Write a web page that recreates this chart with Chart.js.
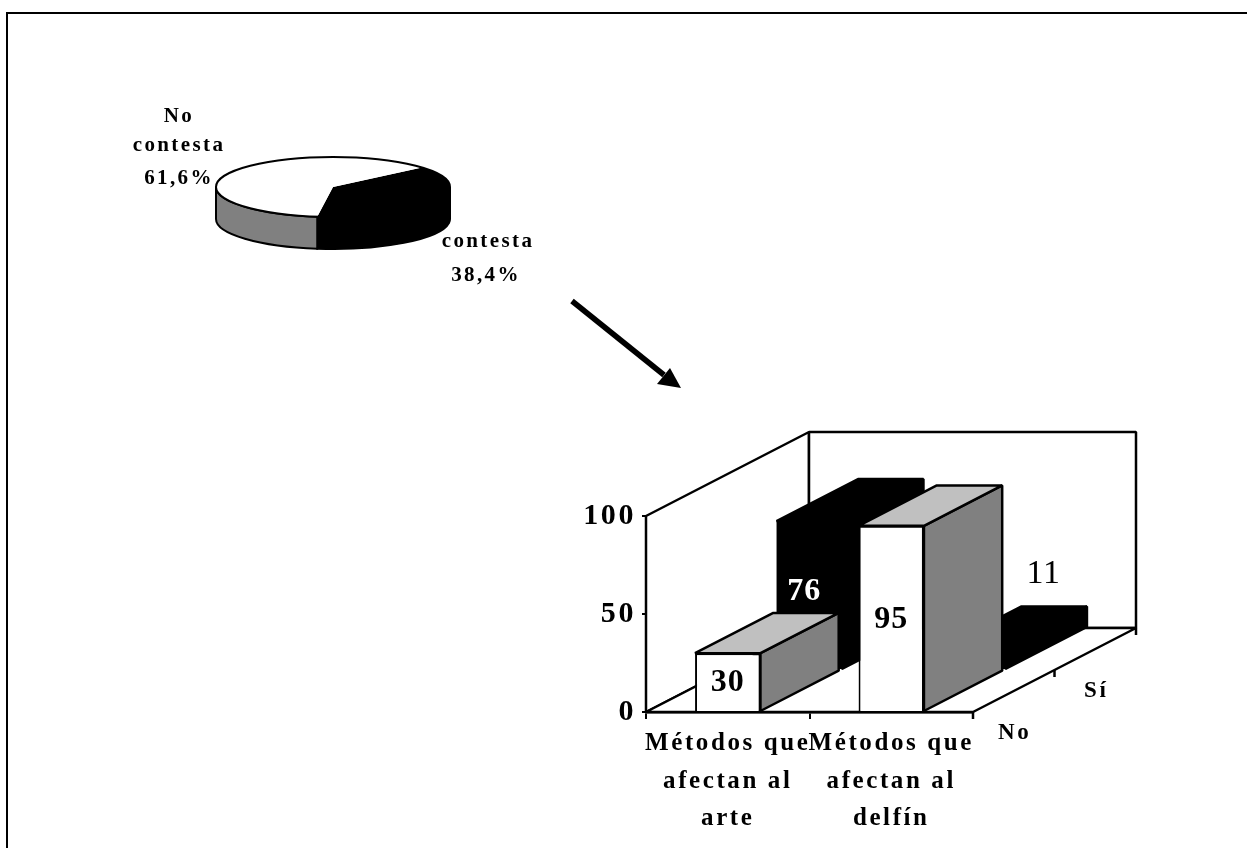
<!DOCTYPE html>
<html lang="es">
<head>
<meta charset="utf-8">
<title>Métodos</title>
<script src="https://cdn.jsdelivr.net/npm/chart.js@4"></script>
<style>
html,body{margin:0;padding:0;background:#fff;width:1247px;height:848px;overflow:hidden}
#frameTop{position:absolute;left:6px;top:12px;width:1241px;height:2px;background:#000}
#frameLeft{position:absolute;left:6px;top:12px;width:2px;height:836px;background:#000}
canvas{position:absolute}
#pie{left:100px;top:50px}
#bars{left:560px;top:410px}
#arrow{position:absolute;left:0;top:0}
</style>
</head>
<body>
<div id="frameTop"></div><div id="frameLeft"></div>
<canvas id="pie" width="500" height="270"></canvas>
<canvas id="bars" width="687" height="438"></canvas>
<svg id="arrow" width="1247" height="848"><line x1="572" y1="301" x2="664" y2="375" stroke="#000" stroke-width="5.5"/><polygon points="681,388 657,384 670,368" fill="#000"/></svg>
<script>
// ---------- data ----------
const pieCategories = ['contesta', 'No contesta'];
const pieValues = [38.4, 61.6];
const pieTexts = ['38,4%', '61,6%'];
const barCategories = [['Métodos que', 'afectan al', 'arte'], ['Métodos que', 'afectan al', 'delfín']];
const seriesNames = ['No', 'Sí'];
const seriesNo = [30, 95];
const seriesSi = [76, 11];
const yTicks = [0, 50, 100];

// ---------- style ----------
const SERIF = '"Liberation Serif","Times New Roman",serif';
const GREY = '#808080', LIGHT = '#c0c0c0';

// ---------- pie ----------
const PIE_SQUASH = 30 / 117, PIE_DEPTH = 32;
const pie3d = {
  id: 'pie3d',
  beforeDatasetsDraw(chart) {
    const c = chart.ctx, arcs = chart.getDatasetMeta(0).data;
    const cx = arcs[0].x, cy = arcs[0].y, r = arcs[0].outerRadius, ry = r * PIE_SQUASH;
    c.save();
    c.lineWidth = 2; c.strokeStyle = '#000';
    [ '#000', GREY ].forEach((fill, i) => {
      const from = Math.max(arcs[i].startAngle, 0), to = Math.min(arcs[i].endAngle, Math.PI);
      if (to <= from) return;
      c.beginPath();
      c.ellipse(cx, cy, r, ry, 0, from, to);
      c.ellipse(cx, cy + PIE_DEPTH, r, ry, 0, to, from, true);
      c.closePath();
      c.fillStyle = fill; c.fill(); c.stroke();
    });
    c.restore();
    c.save();
    c.translate(cx, cy); c.scale(1, PIE_SQUASH); c.translate(-cx, -cy);
  },
  afterDatasetsDraw(chart) {
    const c = chart.ctx, arcs = chart.getDatasetMeta(0).data;
    c.restore();
    const cx = arcs[0].x, cy = arcs[0].y, r = arcs[0].outerRadius, ry = r * PIE_SQUASH;
    c.save();
    c.lineWidth = 2; c.strokeStyle = '#000';
    c.beginPath(); c.ellipse(cx, cy, r, ry, 0, 0, 2*Math.PI); c.stroke();
    c.restore();
    c.save();
    c.fillStyle = '#000'; c.textAlign = 'center'; c.textBaseline = 'middle';
    c.font = 'bold 21px ' + SERIF; c.letterSpacing = '2.4px';
    const noLines = pieCategories[1].split(' ').concat(pieTexts[1]);
    const ys = [cy - 70, cy - 41, cy - 8];
    noLines.forEach((t, i) => c.fillText(t, cx - 154, ys[i]));
    c.fillText(pieCategories[0], cx + 155, cy + 55);
    c.fillText(pieTexts[0], cx + 153, cy + 89);
    c.restore();
  }
};
new Chart(document.getElementById('pie'), {
  type: 'pie',
  data: { labels: pieCategories, datasets: [{ data: pieValues, backgroundColor: ['#000', '#fff'], borderWidth: 0 }] },
  options: {
    responsive: false, animation: false, rotation: 49.5,
    layout: { padding: { left: 116, right: 150, top: 20, bottom: 16 } },
    plugins: { legend: { display: false }, tooltip: { enabled: false } }
  },
  plugins: [pie3d]
});

// ---------- 3D bars ----------
const DX = 163, DY = -84;
const sliceDepth = [0.48, 0.5];
const depthStart = [0, 0.5];

function poly(c, pts, fill) {
  c.beginPath();
  pts.forEach((p, i) => i ? c.lineTo(p[0], p[1]) : c.moveTo(p[0], p[1]));
  c.closePath();
  if (fill) { c.fillStyle = fill; c.fill(); }
  c.stroke();
}
const bars3d = {
  id: 'bars3d',
  beforeDraw(chart) { chart.ctx.letterSpacing = '2.6px'; },
  beforeDatasetsDraw(chart) {
    const c = chart.ctx, a = chart.chartArea;
    c.save();
    c.lineWidth = 2.5; c.strokeStyle = '#000'; c.lineJoin = 'bevel';
    poly(c, [[a.left, a.top], [a.left + DX, a.top + DY], [a.left + DX, a.bottom + DY], [a.left, a.bottom]], '#fff');
    poly(c, [[a.left + DX, a.top + DY], [a.right + DX, a.top + DY], [a.right + DX, a.bottom + DY], [a.left + DX, a.bottom + DY]], '#fff');
    poly(c, [[a.left, a.bottom], [a.right, a.bottom], [a.right + DX, a.bottom + DY], [a.left + DX, a.bottom + DY]], '#fff');
    c.fillStyle = '#000'; c.textAlign = 'center'; c.textBaseline = 'middle';
    c.font = 'bold 23px ' + SERIF; c.letterSpacing = '2.6px';
    [0, 0.5, 1].forEach(f => {
      const x = a.right + DX * f, y = a.bottom + DY * f;
      c.beginPath(); c.moveTo(x, y); c.lineTo(x, y + 7); c.stroke();
    });
    seriesNames.forEach((n, i) => {
      const f = i === 0 ? 0.25 : 0.75;
      c.fillText(n, a.right + DX * f + 1, a.bottom + DY * f + 42);
    });
    c.restore();
  },
  beforeDatasetDraw(chart, args) {
    const c = chart.ctx, meta = args.meta, i = args.index;
    const ox = DX * depthStart[i], oy = DY * depthStart[i], ex = DX * sliceDepth[i], ey = DY * sliceDepth[i];
    c.save();
    c.lineWidth = 2.5; c.strokeStyle = '#000'; c.lineJoin = 'bevel';
    meta.data.forEach(b => {
      const l = b.x - b.width / 2 + ox, r = b.x + b.width / 2 + ox, t = b.y + oy, bt = b.base + oy;
      poly(c, [[r, t], [r + ex, t + ey], [r + ex, bt + ey], [r, bt]], i ? '#000' : GREY);
      poly(c, [[l, t], [l + ex, t + ey], [r + ex, t + ey], [r, t]], i ? '#000' : LIGHT);
    });
    c.restore();
    c.save();
    c.translate(ox, oy);
  },
  afterDatasetDraw(chart) { chart.ctx.restore(); },
  afterDatasetsDraw(chart) {
    const c = chart.ctx;
    c.save();
    c.textAlign = 'center'; c.textBaseline = 'middle'; c.letterSpacing = '1px';
    chart.getDatasetMeta(0).data.forEach((b, k) => {
      c.fillStyle = '#000'; c.font = 'bold 32px ' + SERIF;
      c.fillText(String(seriesNo[k]), b.x, (b.y + b.base) / 2 + 1);
    });
    const s = chart.getDatasetMeta(1).data, ox = DX * depthStart[1], oy = DY * depthStart[1];
    c.fillStyle = '#fff'; c.font = 'bold 32px ' + SERIF;
    c.fillText(String(seriesSi[0]), s[0].x + ox - 5, (s[0].y + s[0].base) / 2 + oy - 3);
    c.fillStyle = '#000'; c.font = '34px ' + SERIF;
    c.fillText(String(seriesSi[1]), s[1].x + ox + 71, s[1].y + oy - 74);
    c.restore();
  }
};
new Chart(document.getElementById('bars'), {
  type: 'bar',
  data: {
    labels: barCategories,
    datasets: [
      { label: seriesNames[0], data: seriesNo, backgroundColor: '#fff', borderColor: '#000', borderWidth: 2, clip: false },
      { label: seriesNames[1], data: seriesSi, backgroundColor: '#000', borderWidth: 0, clip: false }
    ]
  },
  options: {
    responsive: false, animation: false,
    layout: { padding: { left: 0, top: 106, right: 274, bottom: 0 } },
    datasets: { bar: { grouped: false, barPercentage: 0.4, categoryPercentage: 1 } },
    scales: {
      x: {
        offset: true,
        afterFit(s) { s.height = 136; },
        grid: { display: true, offset: true, drawOnChartArea: false, color: '#000', lineWidth: 2, tickLength: 7 },
        border: { display: true, color: '#000', width: 2.5 },
        ticks: { color: '#000', autoSkip: false, maxRotation: 0, minRotation: 0, padding: 6,
                 font: { family: SERIF, weight: 'bold', size: 25, lineHeight: 1.5 } }
      },
      y: {
        min: 0, max: 100,
        afterBuildTicks(s) { s.ticks = yTicks.map(v => ({ value: v })); },
        afterFit(s) { s.width = 86; },
        grid: { display: true, drawOnChartArea: false, color: '#000', lineWidth: 2, tickLength: 4 },
        border: { display: true, color: '#000', width: 2.5 },
        ticks: { color: '#000', padding: 6, font: { family: SERIF, weight: 'bold', size: 30 } }
      }
    },
    plugins: { legend: { display: false }, tooltip: { enabled: false } }
  },
  plugins: [bars3d]
});
</script>
</body>
</html>
